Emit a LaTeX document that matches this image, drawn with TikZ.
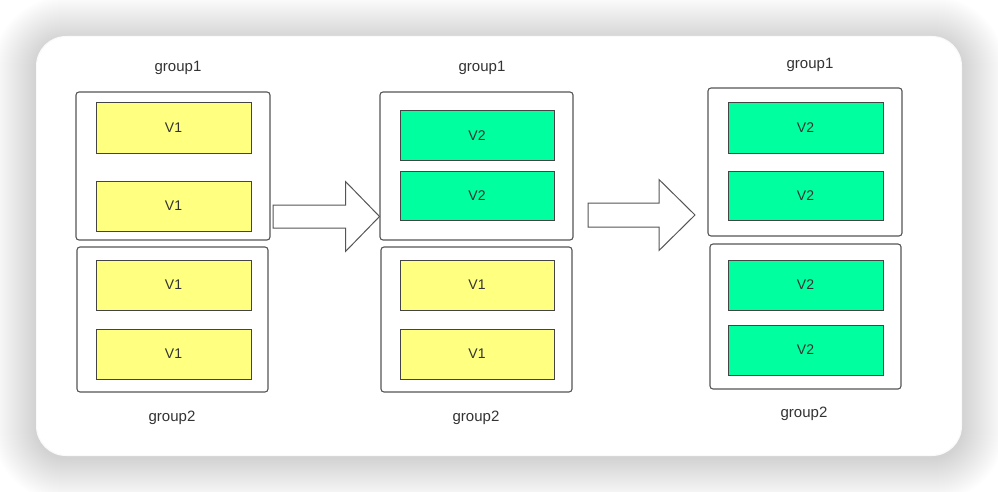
\documentclass[tikz,border=0pt]{standalone}
\usepackage{fontspec}
\setmainfont{Liberation Sans}
\usetikzlibrary{calc}
\definecolor{txt}{HTML}{333333}
\definecolor{edge}{HTML}{555555}
\definecolor{vyel}{HTML}{FFFF80}
\definecolor{vgrn}{HTML}{00FF9F}
\tikzset{
  gbox/.style={draw=edge, line width=1.1pt, rounded corners=3pt, fill=white, inner sep=0pt, minimum width=#1},
  gbox/.default=194pt,
  vbox/.style={draw=edge!80!black, line width=1pt, inner sep=0pt, minimum width=155pt, minimum height=50pt, text=txt, font=\fontsize{14}{16}\selectfont},
  v1/.style={vbox, fill=vyel},
  v2/.style={vbox, fill=vgrn},
  glabel/.style={text=txt, font=\fontsize{15}{17}\selectfont, inner sep=0pt},
  blockarrow/.style={draw=edge, line width=1pt, fill=white, line join=miter}
}
\begin{document}
\begin{tikzpicture}[x=1pt, y=-1pt]
\useasboundingbox (0,0) rectangle (998,492);
\fill[white] (0,0) rectangle (998,492);
% card shadow
\foreach \i in {1,...,44}{
  \fill[black, opacity=0.0026, rounded corners={30+\i}] ({36-\i},{40-\i}) rectangle ({962+\i},{458+\i});
}
\fill[white!98!black, rounded corners=30pt] (36,36) rectangle (962,456);
\fill[white, rounded corners=30pt] (37,37) rectangle (961,455);

% column 1
\node[gbox, minimum height=148pt] (c1g1) at (173,166) {};
\node[v1] (c1a) at (173.5,128) {V1};
\node[v1] (c1b) at (173.5,206) {V1};
\node[gbox=191pt, minimum height=145pt] (c1g2) at (172.5,319.5) {};
\node[v1] (c1c) at (173.5,285) {V1};
\node[v1] (c1d) at (173.5,354) {V1};
\node[glabel] (c1l1) at (178,68) {group1};
\node[glabel] (c1l2) at (172,418) {group2};

% column 2
\node[gbox=193pt, minimum height=148pt] (c2g1) at (476.5,166) {};
\node[v2, minimum width=154pt, minimum height=49pt] (c2a) at (477,135.5) {V2};
\node[v2, minimum width=154pt, minimum height=49pt] (c2b) at (477,195.5) {V2};
\node[gbox=191pt, minimum height=145pt] (c2g2) at (476.5,319.5) {};
\node[v1, minimum width=154pt] (c2c) at (477,285) {V1};
\node[v1, minimum width=154pt] (c2d) at (477,354) {V1};
\node[glabel] (c2l1) at (482,68) {group1};
\node[glabel] (c2l2) at (476,418) {group2};

% column 3
\node[gbox, minimum height=148pt] (c3g1) at (805,162) {};
\node[v2] (c3a) at (805.5,128) {V2};
\node[v2, minimum height=49pt] (c3b) at (805.5,195.5) {V2};
\node[gbox=191pt, minimum height=145pt] (c3g2) at (805.5,316.5) {};
\node[v2] (c3c) at (805.5,285) {V2};
\node[v2] (c3d) at (805.5,350) {V2};
\node[glabel] (c3l1) at (810,65) {group1};
\node[glabel] (c3l2) at (804,414) {group2};

% block arrows
\coordinate (a1s) at (273,216.5);
\coordinate (a1t) at (379.5,216.5);
\coordinate (a2s) at (588,215);
\coordinate (a2t) at (695,215);
\draw[blockarrow] ($(a1s)+(0,-11.5)$) -- ($(a1t)+(-34,-11.5)$) -- ($(a1t)+(-34,-35)$) -- (a1t)
  -- ($(a1t)+(-34,35)$) -- ($(a1t)+(-34,11.5)$) -- ($(a1s)+(0,11.5)$) -- cycle;
\draw[blockarrow] ($(a2s)+(0,-12)$) -- ($(a2t)+(-36,-12)$) -- ($(a2t)+(-36,-35.5)$) -- (a2t)
  -- ($(a2t)+(-36,35.5)$) -- ($(a2t)+(-36,12)$) -- ($(a2s)+(0,12)$) -- cycle;
\end{tikzpicture}
\end{document}
